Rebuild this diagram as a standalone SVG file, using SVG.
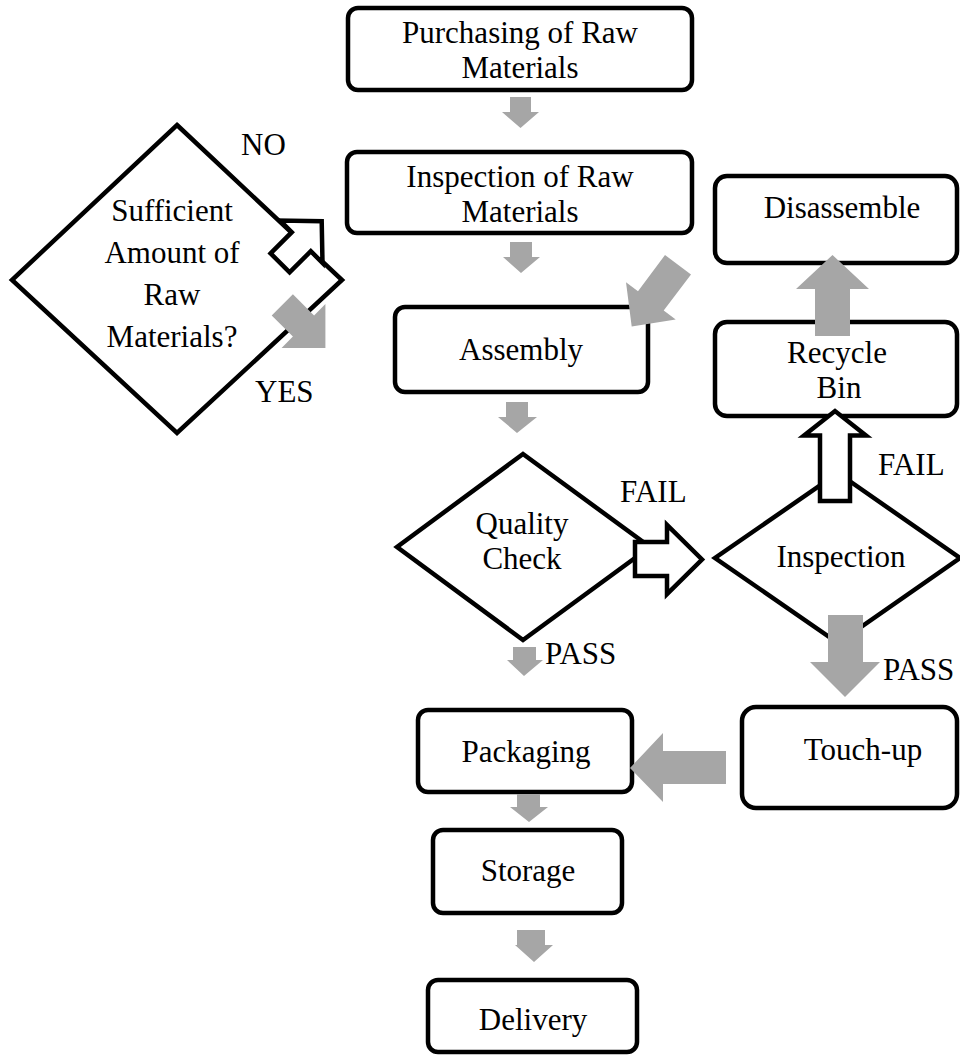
<svg xmlns="http://www.w3.org/2000/svg" width="960" height="1059" viewBox="0 0 960 1059">
<style>
.box{fill:#fff;stroke:#000;stroke-width:4.5}
.dia{fill:#fff;stroke:#000;stroke-width:4.5;stroke-linejoin:miter}
.t{font-family:"Liberation Serif","Times New Roman",serif;font-size:31px;fill:#000;text-anchor:middle}
.l{font-family:"Liberation Serif","Times New Roman",serif;font-size:31px;fill:#000}
.g{fill:#a6a6a6;stroke:none}
.w{fill:#fff;stroke:#000;stroke-width:4.5;stroke-linejoin:miter}
</style>
<rect width="960" height="1059" fill="#fff"/>
<g id="purchasing">
<rect class="box" x="348" y="8" width="344" height="82" rx="10"/>
<text class="t" x="520" y="43">Purchasing of Raw</text>
<text class="t" x="520" y="78">Materials</text>
</g>
<g id="inspection-raw">
<rect class="box" x="347" y="152" width="345" height="81" rx="10"/>
<text class="t" x="520" y="187">Inspection of Raw</text>
<text class="t" x="520" y="222">Materials</text>
</g>
<g id="sufficient">
<polygon class="dia" points="177,125 342,280 177,433 12,280"/>
<text class="t" x="172" y="221">Sufficient</text>
<text class="t" x="172" y="263">Amount of</text>
<text class="t" x="172" y="305">Raw</text>
<text class="t" x="172" y="347">Materials?</text>
</g>
<g id="assembly">
<rect class="box" x="395" y="307" width="253" height="85" rx="10"/>
<text class="t" x="521" y="360">Assembly</text>
</g>
<g id="disassemble">
<rect class="box" x="715" y="176" width="242" height="87" rx="12"/>
<text class="t" x="842" y="218">Disassemble</text>
</g>
<g id="recycle-bin">
<rect class="box" x="715" y="322" width="242" height="94" rx="12"/>
<text class="t" x="837" y="363">Recycle</text>
<text class="t" x="839" y="398">Bin</text>
</g>
<g id="quality-check">
<polygon class="dia" points="523,454 650,547 523,640 397,547"/>
<text class="t" x="522" y="534">Quality</text>
<text class="t" x="522" y="569">Check</text>
</g>
<g id="inspection">
<polygon class="dia" points="838,473 960,558 838,643 715,558"/>
<text class="t" x="841" y="567">Inspection</text>
</g>
<g id="touch-up">
<rect class="box" x="742" y="707" width="215" height="101" rx="14"/>
<text class="t" x="863" y="760">Touch-up</text>
</g>
<g id="packaging">
<rect class="box" x="418" y="710" width="214" height="82" rx="10"/>
<text class="t" x="526" y="762">Packaging</text>
</g>
<g id="storage">
<rect class="box" x="433" y="830" width="189" height="83" rx="10"/>
<text class="t" x="528" y="881">Storage</text>
</g>
<g id="delivery">
<rect class="box" x="428" y="980" width="209" height="72" rx="10"/>
<text class="t" x="533" y="1030">Delivery</text>
</g>
<g id="connectors">
<polygon class="g" points="510,97 531,97 531,112 539,112 520.5,128 502,112 510,112"/>
<polygon class="g" points="510,242 532,242 532,257 540,257 521,273 503,257 510,257"/>
<polygon class="g" points="506,402 528,402 528,417 537,417 517,433 498,417 506,417"/>
<polygon class="g" points="513,647 536,647 536,660 543,660 524,676 507,660 513,660"/>
<polygon class="g" points="517,794 540,794 540,807 548,807 529,822 510,807 517,807"/>
<polygon class="g" points="517,930 545,930 545,945 553,945 534,962 515,945 517,945"/>
<polygon class="g" points="726,751 663,751 663,733 630,768 663,802 663,784 726,784"/>
<polygon class="g" points="828,615 863,615 863,662 880,662 845,697 810,662 828,662"/>
<polygon class="g" points="815,336 815,289 796,289 832.5,255 869,289 850,289 850,336"/>
<polygon class="g" points="665,255 691,274.5 663.7,310.5 675.7,319.5 631.7,326.5 626,282.3 638,291.3"/>
<polygon class="g" points="292.9,294.2 314.1,315.4 325.4,304.1 325.4,347.9 281.6,347.9 292.9,336.6 271.7,315.4"/>
<polygon class="w" points="270.6,253.4 291.8,232.2 280.1,220.5 321.7,221.3 322.5,262.9 310.8,251.2 289.6,272.4"/>
<polygon class="w" points="635,542 667,542 667,525 702,559.5 667,594 667,576 635,576"/>
<polygon class="w" points="820,501 820,435.5 804,435.5 835,411 866,435.5 850,435.5 850,501"/>
</g>
<g id="labels">
<text class="l" x="241" y="155">NO</text>
<text class="l" x="255" y="402">YES</text>
<text class="l" x="620" y="502">FAIL</text>
<text class="l" x="545" y="664">PASS</text>
<text class="l" x="878" y="475">FAIL</text>
<text class="l" x="883" y="680">PASS</text>
</g>
</svg>
